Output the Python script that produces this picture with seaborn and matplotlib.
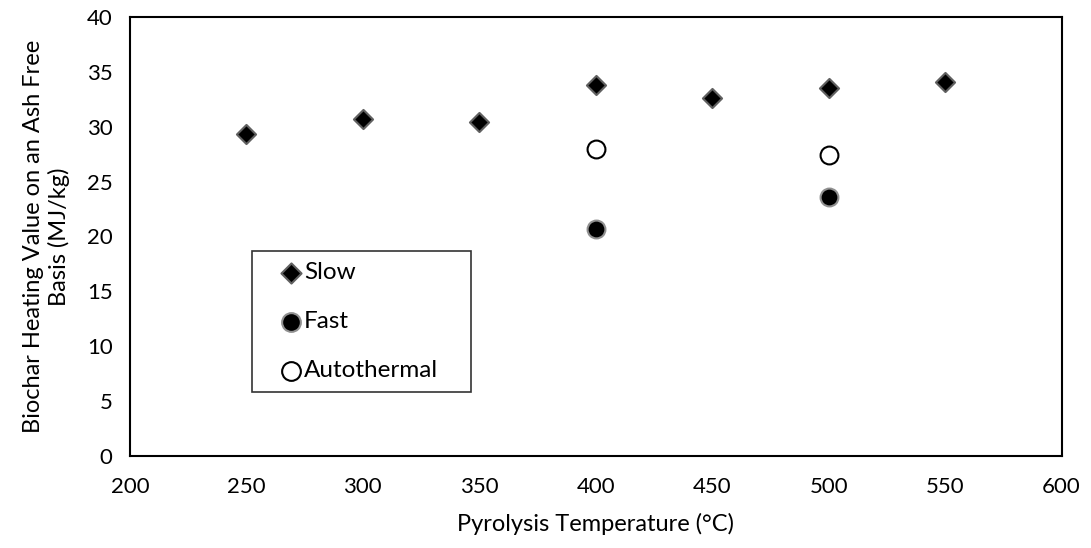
import numpy as np
import pandas as pd
import seaborn as sns
import matplotlib.pyplot as plt

# data
slow_temp = [250, 300, 350, 400, 450, 500, 550]
slow_hhv = [29.3, 30.7, 30.4, 33.8, 32.6, 33.5, 34.05]
fast_temp = [400, 500]
fast_hhv = [20.7, 23.6]
auto_temp = [400, 500]
auto_hhv = [28.0, 27.4]

sns.set_style("white")
plt.rcParams['font.family'] = ['Lato', 'DejaVu Sans']
plt.rcParams['text.color'] = 'black'
plt.rcParams['axes.labelcolor'] = 'black'
plt.rcParams['xtick.color'] = 'black'
plt.rcParams['ytick.color'] = 'black'

fig = plt.figure(figsize=(10.91, 5.48), dpi=100)
ax = fig.add_axes([0.119, 0.168, 0.854, 0.801])

sns.scatterplot(x=slow_temp, y=slow_hhv, marker="D", s=95, color="black",
                edgecolor="#606060", linewidth=1.5, label="Slow", ax=ax, zorder=3)
sns.scatterplot(x=fast_temp, y=fast_hhv, marker="o", s=165, color="black",
                edgecolor="#909090", linewidth=1.5, label="Fast", ax=ax, zorder=3)
sns.scatterplot(x=auto_temp, y=auto_hhv, marker="o", s=165, color="white",
                edgecolor="black", linewidth=1.5, label="Autothermal", ax=ax, zorder=3)

ax.set_xlim(200, 600)
ax.set_ylim(0, 40)
ax.set_xticks(np.arange(200, 601, 50))
ax.set_yticks(np.arange(0, 41, 5))
for sp in ax.spines.values():
    sp.set_color("black")
    sp.set_linewidth(1.5)
ax.tick_params(axis="both", direction="out", length=5.5, width=1.5, color="black",
               labelsize=16)
ax.tick_params(axis="x", pad=10)
ax.tick_params(axis="y", pad=7)

ax.set_xlabel("Pyrolysis Temperature (°C)", fontsize=17, labelpad=11)
ax.set_ylabel("Biochar Heating Value on an Ash Free\nBasis (MJ/kg)", fontsize=17,
              labelpad=12, linespacing=1.2)

leg = ax.legend(loc="lower left", bbox_to_anchor=(0.131, 0.146, 0.235, 0.323),
                mode="expand", frameon=True, fancybox=False, edgecolor="black",
                fontsize=17.5, labelspacing=1.15, handletextpad=-0.65, handlelength=2.35,
                borderpad=0.45, borderaxespad=0, markerscale=1.05)
leg.get_frame().set_linewidth(1.2)

fig.savefig("out.png", dpi=100)
